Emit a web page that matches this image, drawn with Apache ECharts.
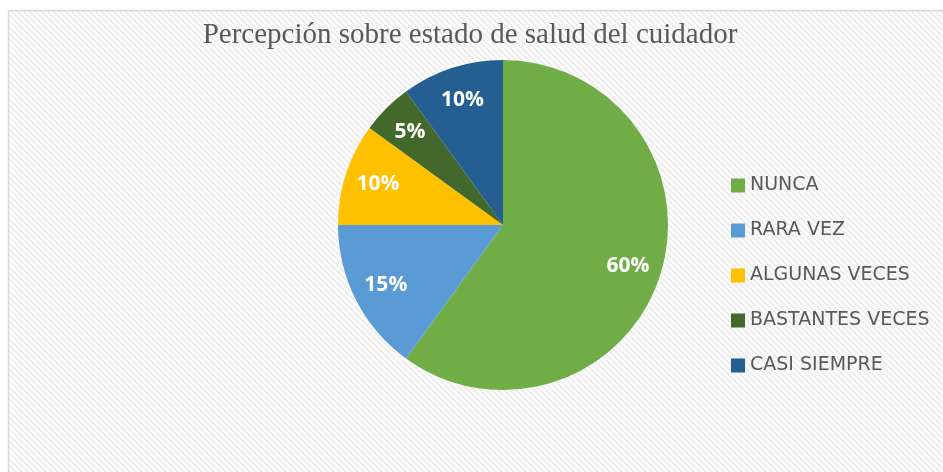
<!DOCTYPE html>
<html>
<head>
<meta charset="utf-8">
<script src="https://cdn.jsdelivr.net/npm/echarts@6/dist/echarts.min.js"></script>
<style>
html,body{margin:0;padding:0;background:#fff;}
#c{width:943px;height:472px;}
</style>
</head>
<body>
<div id="c"></div>
<script>
const categories = ['NUNCA', 'RARA VEZ', 'ALGUNAS VECES', 'BASTANTES VECES', 'CASI SIEMPRE'];
const values = [60, 15, 10, 5, 10];
const colors = ['#70AD47', '#5B9BD5', '#FFC000', '#43682B', '#255E91'];
const titleText = 'Percepción sobre estado de salud del cuidador';

const pc = document.createElement('canvas');
pc.width = 6; pc.height = 6;
const g = pc.getContext('2d');
g.fillStyle = '#fbfbfb';
g.fillRect(0, 0, 6, 6);
g.strokeStyle = '#ececec';
g.lineWidth = 1.6;
for (let k = -6; k <= 12; k += 6) {
  g.beginPath(); g.moveTo(k, 0); g.lineTo(k + 6, 6); g.stroke();
}

const data = categories.map((n, i) => ({ name: n, value: values[i], itemStyle: { color: colors[i] } }));

const chart = echarts.init(document.getElementById('c'));
chart.setOption({
  animation: false,
  backgroundColor: '#ffffff',
  graphic: [{
    type: 'rect', z: -10, silent: true,
    shape: { x: 8.5, y: 10.5, width: 960, height: 480 },
    style: { fill: { image: pc, repeat: 'repeat' }, stroke: '#d9d9d9', lineWidth: 1.5 }
  }],
  title: {
    text: titleText,
    left: 465, top: 16, textAlign: 'center',
    textStyle: { fontFamily: 'Liberation Serif', fontSize: 29, fontWeight: 'normal', color: '#595959' }
  },
  legend: {
    orient: 'vertical', left: 731, top: 176, padding: 0,
    itemWidth: 14, itemHeight: 14, itemGap: 26,
    icon: 'rect',
    data: categories,
    textStyle: { fontFamily: 'DejaVu Sans', fontSize: 19, color: '#595959', lineHeight: 19 }
  },
  series: [{
    type: 'pie', center: [503, 225], radius: [0, 165],
    startAngle: 90, clockwise: true,
    label: { show: false }, labelLine: { show: false },
    emphasis: { disabled: true },
    data: data
  }, {
    type: 'pie', center: [503, 225], radius: [92, 165],
    startAngle: 90, clockwise: true, silent: true,
    itemStyle: { color: 'rgba(0,0,0,0)' },
    label: {
      show: true, position: 'inside', formatter: '{c}%',
      fontFamily: 'Open Sans', fontWeight: 'bold', fontSize: 21, color: '#ffffff'
    },
    labelLine: { show: false },
    emphasis: { disabled: true },
    data: categories.map((n, i) => ({ name: n, value: values[i], itemStyle: { color: 'rgba(0,0,0,0)' } }))
  }]
});
</script>
</body>
</html>
